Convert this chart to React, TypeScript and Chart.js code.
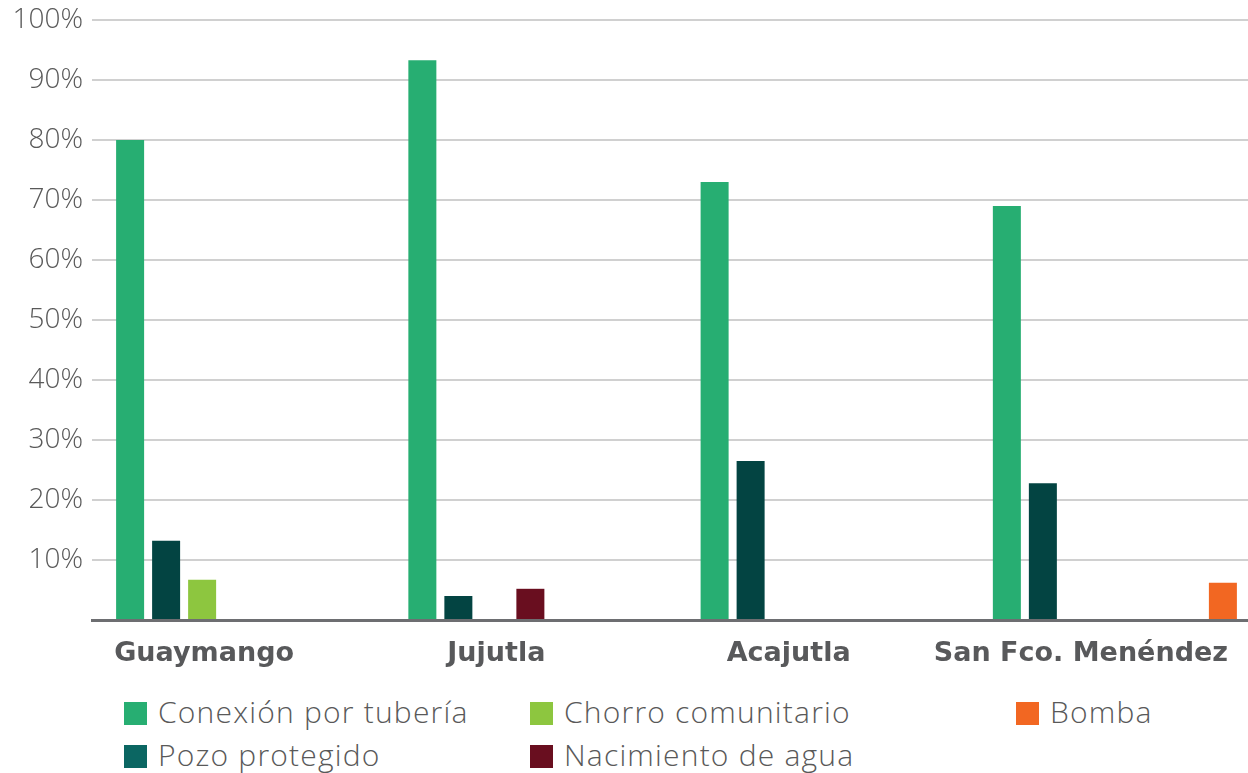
import React, { useEffect, useRef } from "react";
import { Chart, registerables } from "chart.js";

Chart.register(...registerables);

const categories = ["Guaymango", "Jujutla", "Acajutla", "San Fco. Menéndez"];
const conexionPorTuberia = [80, 93.3, 73, 69];
const pozoProtegido = [13.2, 4, 26.5, 22.8];
const chorroComunitario = [6.7, null, null, null];
const nacimientoDeAgua = [null, 5.2, null, null];
const sinDatos1 = [null, null, null, null];
const sinDatos2 = [null, null, null, null];
const bomba = [null, null, null, 6.2];

const barColors = ["#27AE72", "#034442", "#8DC63F", "#690E1F", "#999999", "#999999", "#F26722"];
const seriesNames = [
  "Conexión por tubería",
  "Pozo protegido",
  "Chorro comunitario",
  "Nacimiento de agua",
  "",
  "",
  "Bomba",
];

const legendItems = [
  { name: "Conexión por tubería", color: "#27AE72", col: 0, row: 0 },
  { name: "Chorro comunitario", color: "#8DC63F", col: 1, row: 0 },
  { name: "Bomba", color: "#F26722", col: 2, row: 0 },
  { name: "Pozo protegido", color: "#0B6662", col: 0, row: 1 },
  { name: "Nacimiento de agua", color: "#690E1F", col: 1, row: 1 },
];

const legendColX = [124, 530, 1016];
const legendRowY = [702, 745];

export default function App() {
  const canvasRef = useRef<HTMLCanvasElement | null>(null);

  useEffect(() => {
    document.body.style.margin = "0";
    const allSeries = [
      conexionPorTuberia,
      pozoProtegido,
      chorroComunitario,
      nacimientoDeAgua,
      sinDatos1,
      sinDatos2,
      bomba,
    ];
    const chart = new Chart(canvasRef.current as HTMLCanvasElement, {
      type: "bar",
      data: {
        labels: categories,
        datasets: allSeries.map((d, i) => ({
          label: seriesNames[i],
          data: d as any,
          backgroundColor: barColors[i],
          borderWidth: 0,
          categoryPercentage: 0.8624,
          barPercentage: 0.7778,
        })),
      },
      options: {
        animation: false,
        responsive: false,
        maintainAspectRatio: false,
        layout: { padding: { top: 20, left: 0, right: 0, bottom: 0 } },
        plugins: {
          legend: { display: false },
          tooltip: { enabled: false },
        },
        scales: {
          x: {
            offset: true,
            grid: { display: false, drawTicks: false },
            border: { display: true, color: "#6D6E71", width: 3 },
            ticks: {
              font: { family: "DejaVu Sans", weight: "bold", size: 27 },
              color: "#58595B",
              padding: 18,
              labelOffset: -34,
              maxRotation: 0,
              autoSkip: false,
            },
            afterFit: (s: any) => {
              s.height = 70;
              s.paddingLeft = 0;
              s.paddingRight = 0;
            },
          },
          y: {
            min: 0,
            max: 100,
            ticks: {
              stepSize: 10,
              font: { family: "Open Sans", weight: "300", size: 28 },
              color: "#595959",
              padding: 9,
              callback: (v: any) => (Number(v) === 0 ? "" : v + "%"),
            },
            grid: { color: "#D0D0D0", lineWidth: 2, drawTicks: false },
            border: { display: false },
            afterFit: (s: any) => {
              s.width = 92;
              s.paddingTop = 0;
              s.paddingBottom = 0;
            },
          },
        },
      },
    });
    return () => chart.destroy();
  }, []);

  return (
    <div
      style={{
        position: "relative",
        width: 1248,
        height: 773,
        overflow: "hidden",
        background: "#ffffff",
      }}
    >
      <canvas
        ref={canvasRef}
        width={1261}
        height={690}
        style={{ position: "absolute", left: 0, top: 0, width: 1261, height: 690 }}
      />
      {legendItems.map((it) => (
        <div key={it.name}>
          <div
            style={{
              position: "absolute",
              left: legendColX[it.col],
              top: legendRowY[it.row],
              width: 23,
              height: 23,
              background: it.color,
            }}
          />
          <div
            style={{
              position: "absolute",
              left: legendColX[it.col] + 34,
              top: legendRowY[it.row] - 5,
              fontFamily: "'Open Sans', sans-serif",
              fontWeight: 300,
              fontSize: 30,
              lineHeight: "30px",
              letterSpacing: "1.2px",
              color: "#595959",
              whiteSpace: "nowrap",
            }}
          >
            {it.name}
          </div>
        </div>
      ))}
    </div>
  );
}
